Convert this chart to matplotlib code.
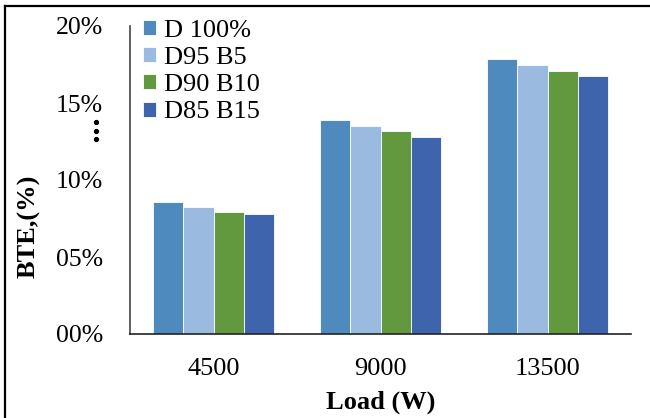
import numpy as np
import matplotlib
matplotlib.use("Agg")
import matplotlib.pyplot as plt
from matplotlib.lines import Line2D

loads = ["4500", "9000", "13500"]
series = ["D 100%", "D95 B5", "D90 B10", "D85 B15"]
bte_d100 = [8.57, 13.90, 17.84]
bte_d95b5 = [8.26, 13.50, 17.47]
bte_d90b10 = [7.94, 13.16, 17.08]
bte_d85b15 = [7.77, 12.79, 16.75]
yticks = [0, 5, 10, 15, 20]
ytick_labels = ["00%", "05%", "10%", "15%", "20%"]

colors = ["#4F8ABE", "#9ABADF", "#62993E", "#3D64AD"]
values = [bte_d100, bte_d95b5, bte_d90b10, bte_d85b15]

plt.rcParams["font.family"] = ["Liberation Serif", "DejaVu Serif"]
FS = 19

W, H = 650, 418
fig = plt.figure(figsize=(W / 100, H / 100), dpi=100)
ax = fig.add_axes([130 / W, 1 - 334 / H, 501 / W, 308 / H])

x = np.arange(len(loads))
bw = 0.182
for i, (vals, c, name) in enumerate(zip(values, colors, series)):
    ax.bar(x + (i - 1.5) * bw, vals, width=bw, color=c, edgecolor="white",
           linewidth=0.6, label=name, zorder=2)

ax.set_xlim(-0.5, len(loads) - 0.5)
ax.set_ylim(0, 20)
ax.set_xticks(x)
ax.set_xticklabels(loads, fontsize=FS)
ax.set_yticks(yticks)
ax.set_yticklabels(ytick_labels, fontsize=18.5)
ax.tick_params(axis="x", length=0, pad=17)
ax.tick_params(axis="y", length=0, pad=19.5)
for s in ["top", "right"]:
    ax.spines[s].set_visible(False)
ax.spines["left"].set_color("#444444")
ax.spines["bottom"].set_color("#222222")
ax.spines["left"].set_linewidth(1.2)
ax.spines["bottom"].set_linewidth(1.2)

ax.set_xlabel("Load (W)", fontsize=FS, fontweight="bold", labelpad=8)
fig.text(29 / W, 1 - 226 / H, "BTE,(%)", fontsize=FS, fontweight="bold",
         rotation=90, ha="center", va="center")

# vertical ellipsis next to the 15% tick
fig.add_artist(Line2D([96 / W] * 3, [1 - 122 / H, 1 - 130.5 / H, 1 - 139 / H],
                      linestyle="none", marker="o", markersize=2.8,
                      color="black", transform=fig.transFigure))

leg = ax.legend(loc="upper left", bbox_to_anchor=(0.005, 1.055), frameon=False,
                fontsize=FS, handlelength=0.5, handleheight=0.5,
                handletextpad=0.3, labelspacing=0.2, borderaxespad=0)

# outer frame lines along top and left edges
fig.add_artist(Line2D([5 / W, 1], [1 - 6 / H, 1 - 6 / H], color="black", lw=1.6,
                      transform=fig.transFigure))
fig.add_artist(Line2D([5 / W, 5 / W], [0, 1 - 6 / H], color="black", lw=1.6,
                      transform=fig.transFigure))

fig.savefig("out.png", dpi=100)
